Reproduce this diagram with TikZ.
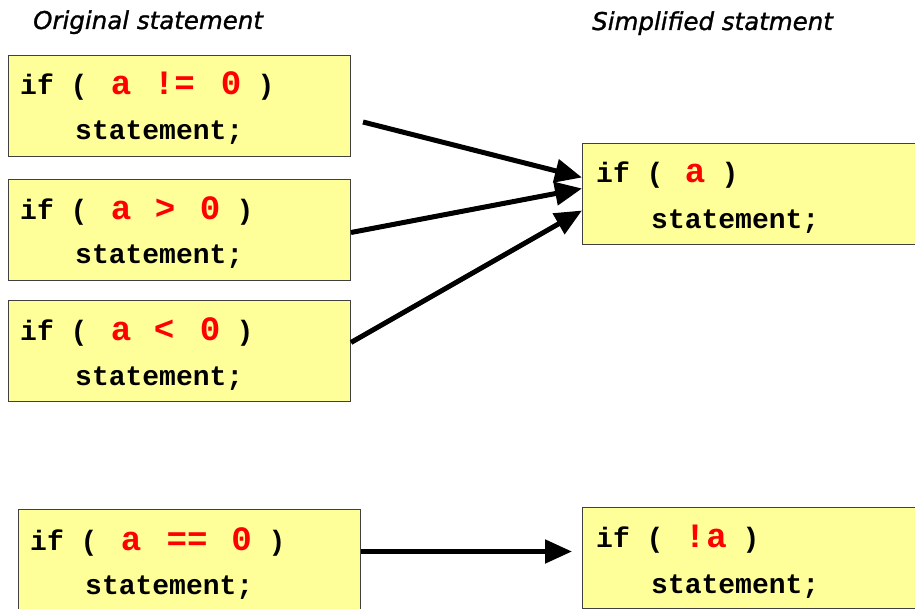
\documentclass[tikz,border=0pt]{standalone}
\usepackage{fontspec}
\usetikzlibrary{arrows.meta,positioning}
\newfontfamily\monofont{Liberation Mono}
\newfontfamily\bigmonofont{Liberation Mono}[Scale=1.22]
\newfontfamily\headfont{DejaVu Sans}[ItalicFeatures={FakeBold=1.2}]
\definecolor{Pale}{HTML}{FFFF99}
\definecolor{Edge}{HTML}{404040}
\newcommand{\rd}[1]{{\color{red}\bigmonofont\bfseries #1}}
\newcommand{\gap}[1]{\hspace{#1pt}}

\begin{document}
\begin{tikzpicture}[x=1pt,y=-1pt,
box/.style={draw=Edge,line width=1pt,fill=Pale,minimum width=342pt,minimum height=101pt,inner sep=0pt,anchor=north west},
code/.style={anchor=base west,inner sep=0pt,font=\monofont\bfseries\fontsize{28}{30}\selectfont},
head/.style={anchor=base west,inner sep=0pt,font=\headfont\itshape\fontsize{24.5}{28}\selectfont},
arrow/.style={-{Triangle[length=27pt,width=23pt]},line width=5pt}]
\useasboundingbox (0,0) rectangle (915,609);
% headings
\node[head](origtitle) at (33,29){Original statement};
\node[head](simptitle) at (592,30){Simplified statment};
% left column
\node[box](orig1) at (8,55){};
\node[code](orig1if) at ([shift={(12,40)}]orig1.north west){if (\gap{23.5}\rd{a\gap{22.5}!=\gap{26}0}\gap{16.3})};
\node[code](orig1st) at ([shift={(67,85)}]orig1.north west){statement;};
\node[box](orig2) at (8,179){};
\node[code](orig2if) at ([shift={(12,41)}]orig2.north west){if (\gap{23.5}\rd{a\gap{23.5}>\gap{24.5}0}\gap{16.3})};
\node[code](orig2st) at ([shift={(67,85)}]orig2.north west){statement;};
\node[box](orig3) at (8,300){};
\node[code](orig3if) at ([shift={(12,41)}]orig3.north west){if (\gap{23.5}\rd{a\gap{22.5}<\gap{25.5}0}\gap{16.3})};
\node[code](orig3st) at ([shift={(67,85)}]orig3.north west){statement;};
\node[box](origeq) at (18,509){};
\node[code](origeqif) at ([shift={(12,41)}]origeq.north west){if (\gap{23.5}\rd{a\gap{25.2}==\gap{23.7}0}\gap{16.8})};
\node[code](origeqst) at ([shift={(67,85)}]origeq.north west){statement;};
% right column
\node[box](simp) at (582,143){};
\node[code](simpif) at ([shift={(14,40)}]simp.north west){if (\gap{21.5}\rd{a}\gap{16.3})};
\node[code](simpst) at ([shift={(69,86)}]simp.north west){statement;};
\node[box](simpnot) at (582,507){};
\node[code](simpnotif) at ([shift={(14,40)}]simpnot.north west){if (\gap{21.5}\rd{!\gap{1}a}\gap{15.8})};
\node[code](simpnotst) at ([shift={(69,86)}]simpnot.north west){statement;};
% arrows
\draw[arrow]([shift={(12,16)}]orig1.east)--([shift={(0,-16.5)}]simp.west);
\draw[arrow]([shift={(0,2.5)}]orig2.east)--([shift={(0,-5.5)}]simp.west);
\draw[arrow]([shift={(0,-8.5)}]orig3.east)--([shift={(0,16.5)}]simp.west);
\draw[arrow]([shift={(0,-8.5)}]origeq.east)--([shift={(-10,-6.5)}]simpnot.west);
\end{tikzpicture}
\end{document}
